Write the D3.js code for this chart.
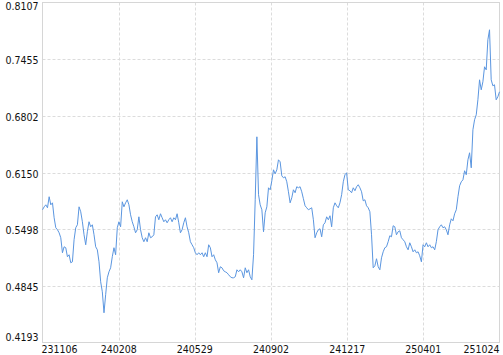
<!DOCTYPE html>
<html>
<head>
<meta charset="utf-8">
<script src="https://cdn.jsdelivr.net/npm/d3@7"></script>
<style>
  body { margin: 0; background: #fff; }
  text { font-family: "DejaVu Sans Condensed", "Liberation Sans", sans-serif; font-size: 10.5px; fill: #111; }
</style>
</head>
<body>
<script>
var width = 503;
var height = 355;

// x tick labels (yymmdd), evenly spread over the session axis
var dateLabels = ["231106", "240208", "240529", "240902", "241217", "250401", "251024"];

// y tick values
var yTicks = [0.4193, 0.4845, 0.5498, 0.6150, 0.6802, 0.7455, 0.8107];

// daily values
var values = [
  0.5721, 0.5755, 0.5778, 0.5744, 0.5871, 0.5778, 0.5801, 0.5629, 0.5514, 0.5491,
  0.5456, 0.5399, 0.5226, 0.5295, 0.5284, 0.5180, 0.5203, 0.5111, 0.5122, 0.5376,
  0.5514, 0.5548, 0.5755, 0.5698, 0.5583, 0.5433, 0.5318, 0.5468, 0.5583, 0.5525,
  0.5548, 0.5433, 0.5295, 0.5260, 0.5122, 0.4892, 0.4777, 0.4535, 0.4743, 0.4938,
  0.5007, 0.5053, 0.5180, 0.5284, 0.5203, 0.5514, 0.5583, 0.5525, 0.5813, 0.5755,
  0.5801, 0.5836, 0.5778, 0.5663, 0.5583, 0.5525, 0.5456, 0.5491, 0.5640, 0.5491,
  0.5399, 0.5353, 0.5399, 0.5353, 0.5456, 0.5399, 0.5410, 0.5433, 0.5640, 0.5663,
  0.5606, 0.5675, 0.5629, 0.5583, 0.5606, 0.5571, 0.5606, 0.5629, 0.5583, 0.5629,
  0.5606, 0.5675, 0.5571, 0.5456, 0.5491, 0.5571, 0.5629, 0.5525, 0.5456, 0.5353,
  0.5318, 0.5284, 0.5226, 0.5203, 0.5226, 0.5203, 0.5226, 0.5180, 0.5226, 0.5180,
  0.5318, 0.5284, 0.5180, 0.5203, 0.5145, 0.5111, 0.4996, 0.5065, 0.5053, 0.5019,
  0.5007, 0.4996, 0.4973, 0.4950, 0.4938, 0.4938, 0.4950, 0.5030, 0.5007, 0.5030,
  0.5007, 0.4938, 0.5053, 0.4996, 0.5030, 0.4950, 0.4915, 0.5203, 0.5836, 0.6561,
  0.5894, 0.5778, 0.5721, 0.5468, 0.5686, 0.5755, 0.5974, 0.5951, 0.6055, 0.6181,
  0.6135, 0.6181, 0.6296, 0.6273, 0.6112, 0.6089, 0.6101, 0.6043, 0.5928, 0.5801,
  0.5859, 0.5951, 0.5917, 0.5986, 0.5974, 0.5986, 0.5928, 0.5848, 0.5767, 0.5744,
  0.5721, 0.5732, 0.5744, 0.5606, 0.5399, 0.5456, 0.5491, 0.5502, 0.5410, 0.5548,
  0.5571, 0.5640, 0.5606, 0.5652, 0.5525, 0.5744, 0.5801, 0.5767, 0.5744, 0.5801,
  0.5894, 0.6043, 0.6124, 0.6147, 0.5951, 0.5940, 0.5917, 0.5974, 0.5940, 0.5986,
  0.6009, 0.5974, 0.5928, 0.5824, 0.5836, 0.5767, 0.5744, 0.5698, 0.5433, 0.5053,
  0.5076, 0.5157, 0.5065, 0.5030, 0.5168, 0.5237, 0.5284, 0.5295, 0.5353, 0.5422,
  0.5410, 0.5537, 0.5525, 0.5433, 0.5468, 0.5479, 0.5399, 0.5376, 0.5353, 0.5295,
  0.5260, 0.5341, 0.5295, 0.5237, 0.5260, 0.5226, 0.5237, 0.5191, 0.5122, 0.5318,
  0.5295, 0.5341, 0.5295, 0.5318, 0.5284, 0.5295, 0.5260, 0.5353, 0.5491, 0.5525,
  0.5548, 0.5514, 0.5525, 0.5491, 0.5433, 0.5548, 0.5617, 0.5594, 0.5675, 0.5721,
  0.5871, 0.5997, 0.6043, 0.6066, 0.6170, 0.6124, 0.6296, 0.6377, 0.6204, 0.6642,
  0.6757, 0.6814, 0.6987, 0.7217, 0.7102, 0.7194, 0.7367, 0.7332, 0.7678, 0.7793,
  0.7217, 0.7148, 0.7160, 0.6987, 0.7022, 0.7079
];

// plot box
var plotLeft = 42.5, plotRight = 499.5, plotTop = 2.5, plotBottom = 342.5;

var svg = d3.select("body").append("svg")
    .attr("width", width)
    .attr("height", height);

var x = d3.scaleLinear()
    .domain([0, values.length - 1])
    .range([plotLeft, plotRight]);

var xLabel = d3.scalePoint()
    .domain(dateLabels)
    .range([plotLeft, plotRight]);

var y = d3.scaleLinear()
    .domain([yTicks[0], yTicks[yTicks.length - 1]])
    .range([plotBottom, plotTop]);

// dashed grid
svg.append("g")
    .selectAll("line")
    .data(yTicks.slice(1, -1))
    .enter().append("line")
    .attr("x1", plotLeft).attr("x2", plotRight)
    .attr("y1", function (d) { return Math.round(y(d)) + 0.5; })
    .attr("y2", function (d) { return Math.round(y(d)) + 0.5; })
    .style("stroke", "#dcdcdc")
    .style("stroke-dasharray", "3,2");

svg.append("g")
    .selectAll("line")
    .data(dateLabels.slice(1, -1))
    .enter().append("line")
    .attr("x1", function (d) { return Math.round(xLabel(d)) + 0.5; })
    .attr("x2", function (d) { return Math.round(xLabel(d)) + 0.5; })
    .attr("y1", plotTop).attr("y2", plotBottom)
    .style("stroke", "#dcdcdc")
    .style("stroke-dasharray", "3,2");

// frame
svg.append("rect")
    .attr("x", plotLeft).attr("y", plotTop)
    .attr("width", plotRight - plotLeft).attr("height", plotBottom - plotTop)
    .style("fill", "none")
    .style("stroke", "#d6d6d6");

// y labels, end ones nudged inside
svg.append("g")
    .selectAll("text")
    .data(yTicks)
    .enter().append("text")
    .attr("x", plotLeft - 4)
    .attr("y", function (d, i) {
        if (i == 0) return plotBottom - 2;
        if (i == yTicks.length - 1) return plotTop + 7;
        return y(d) + 5;
    })
    .attr("text-anchor", "end")
    .text(function (d) { return d.toFixed(4); });

// x labels
svg.append("g")
    .selectAll("text")
    .data(dateLabels)
    .enter().append("text")
    .attr("x", function (d, i) { return i == 0 ? xLabel(d) - 1 : xLabel(d); })
    .attr("y", 353)
    .attr("text-anchor", function (d, i) {
        if (i == 0) return "start";
        if (i == dateLabels.length - 1) return "end";
        return "middle";
    })
    .text(function (d) { return d; });

var line = d3.line()
    .x(function (d, i) { return x(i); })
    .y(function (d) { return y(d); });

svg.append("path")
    .datum(values)
    .attr("d", line)
    .style("fill", "none")
    .style("stroke", "#5b96e0")
    .style("stroke-width", 1);
</script>
</body>
</html>
